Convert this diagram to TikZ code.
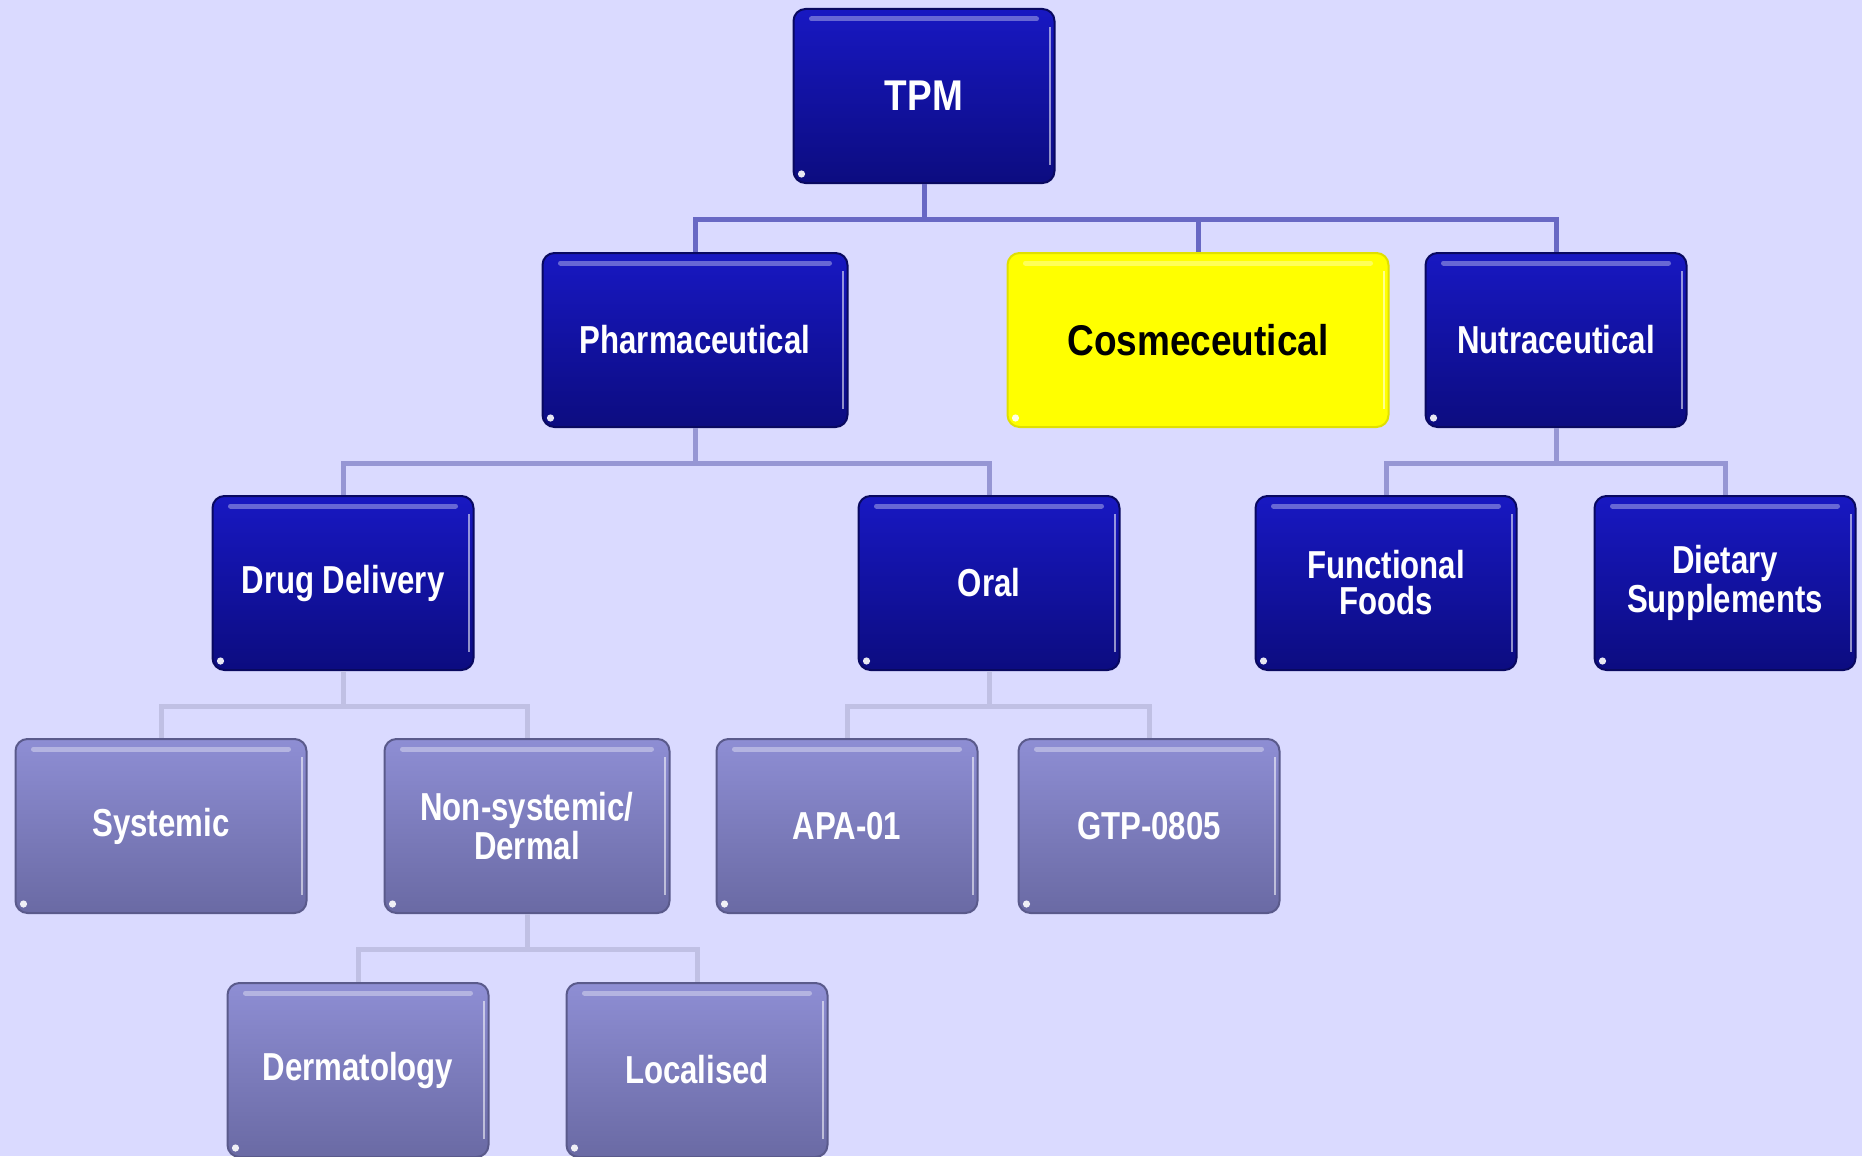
\documentclass[tikz,border=0pt]{standalone}
\usepackage{fontspec}
\setmainfont{Liberation Sans}
\newfontfamily\lblfont[FakeStretch=0.8]{Liberation Sans}
\newfontfamily\bigfont[FakeStretch=0.86]{Liberation Sans}
\definecolor{bg}{RGB}{218,218,255}
\definecolor{dtop}{RGB}{24,24,194}
\definecolor{dbot}{RGB}{12,12,128}
\definecolor{ltop}{RGB}{142,142,212}
\definecolor{lbot}{RGB}{106,106,164}
\definecolor{cA}{RGB}{104,104,196}
\definecolor{cB}{RGB}{150,150,212}
\definecolor{cC}{RGB}{192,192,228}
\definecolor{yel}{RGB}{255,255,0}
\tikzset{
  box/.style={rounded corners=6pt, minimum width=130.5pt, minimum height=87pt,
    inner sep=0pt, align=center, line width=1pt,
    font=\lblfont\bfseries\fontsize{19.5}{18}\selectfont,
    path picture={
      \draw[white, opacity=0.35, line width=2.5pt, line cap=round]
        ([xshift=9pt,yshift=-5pt]path picture bounding box.north west) --
        ([xshift=-9pt,yshift=-5pt]path picture bounding box.north east);
      \draw[white, opacity=0.55, line width=1pt]
        ([xshift=-2.2pt,yshift=-9pt]path picture bounding box.north east) --
        ([xshift=-2.2pt,yshift=9pt]path picture bounding box.south east);
      \fill[white, opacity=0.9]
        ([xshift=4pt,yshift=4.5pt]path picture bounding box.south west) circle (1.8pt);
    }},
  bigtext/.style={font=\bigfont\bfseries\fontsize{21.5}{18}\selectfont},
  dark/.style={box, top color=dtop, bottom color=dbot, draw=dbot!75!black, text=white},
  light/.style={box, top color=ltop, bottom color=lbot, draw=lbot!85!black, text=white},
  yelbox/.style={box, fill=yel, draw=yel!88!black, text=black},
  conA/.style={draw=cA, line width=2.5pt},
  conB/.style={draw=cB, line width=2.5pt},
  conC/.style={draw=cC, line width=2.5pt}
}
\begin{document}
\begin{tikzpicture}[x=0.5pt, y=-0.5pt]
\fill[bg] (0,0) rectangle (1862,1156);
\useasboundingbox (0,0) rectangle (1862,1156);

% row 1
\node[dark, bigtext] (tpm) at (924,96) {TPM};
% row 2
\node[dark, minimum width=152.5pt] (pharm) at (695,340) {Pharmaceutical};
\node[yelbox, bigtext, minimum width=190.5pt] (cosm) at (1198,340) {Cosmeceutical};
\node[dark] (nutra) at (1556,340) {Nutraceutical};
% row 3
\node[dark] (drug) at (343,583) {Drug Delivery};
\node[dark] (oral) at (989,583) {Oral};
\node[dark] (func) at (1386,583) {Functional\\Foods};
\node[dark] (diet) at (1725,583) {Dietary\\Supplements};
% row 4
\node[light, minimum width=145.5pt] (sys) at (161,826) {Systemic};
\node[light, minimum width=142.5pt] (nonsys) at (527,826) {Non-systemic/\\Dermal};
\node[light] (apa) at (847,826) {APA-01};
\node[light] (gtp) at (1149,826) {GTP-0805};
% row 5
\node[light] (derm) at (358,1070) {Dermatology};
\node[light] (local) at (697,1070) {Localised};

% connectors
\draw[conA] (tpm.south) -- ++(0,35) -| (pharm.north);
\draw[conA] (tpm.south) -- ++(0,35) -| (cosm.north);
\draw[conA] (tpm.south) -- ++(0,35) -| (nutra.north);
\draw[conB] (pharm.south) -- ++(0,35) -| (drug.north);
\draw[conB] (pharm.south) -- ++(0,35) -| (oral.north);
\draw[conB] (nutra.south) -- ++(0,35) -| (func.north);
\draw[conB] (nutra.south) -- ++(0,35) -| (diet.north);
\draw[conC] (drug.south) -- ++(0,35) -| (sys.north);
\draw[conC] (drug.south) -- ++(0,35) -| (nonsys.north);
\draw[conC] (oral.south) -- ++(0,35) -| (apa.north);
\draw[conC] (oral.south) -- ++(0,35) -| (gtp.north);
\draw[conC] (nonsys.south) -- ++(0,35) -| (derm.north);
\draw[conC] (nonsys.south) -- ++(0,35) -| (local.north);
\end{tikzpicture}
\end{document}
